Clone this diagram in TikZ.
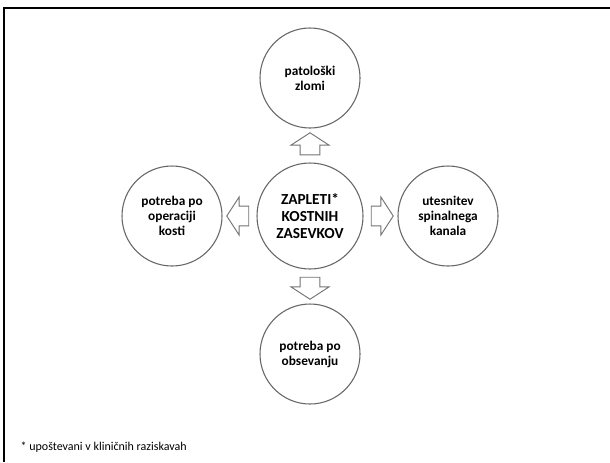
\documentclass[tikz,border=0pt]{standalone}
\usepackage{fontspec}
\setmainfont{Carlito}
\usetikzlibrary{positioning,shapes.arrows,calc}

\begin{document}
\begin{tikzpicture}[x=0.75pt,y=-0.75pt,node distance=103.5pt,
    bubble/.style={draw=black!60, line width=0.8pt, circle, minimum size=75pt, inner sep=0pt, align=center, font=\fontsize{10}{11.25}\selectfont\bfseries},
    blockarrow/.style={draw=black!55, line width=0.7pt, fill=white, single arrow, inner xsep=0pt, inner ysep=7.1pt, minimum height=16.5pt, single arrow head extend=6.75pt, single arrow tip angle=114}]
    \useasboundingbox (0,0) rectangle (610,462);
    \draw [line width=1.5pt] (4,462) -- (4,8) -- (610,8);

    \node (zap) [bubble, minimum size=79.5pt, font=\fontsize{11.5}{12.75}\selectfont\bfseries] at (310,216) {ZAPLETI*\\KOSTNIH\\ZASEVKOV};
    \node (zlomi) [bubble, above of=zap] {patološki\\zlomi};
    \node (operacija) [bubble, left of=zap] {potreba po\\operaciji\\kosti};
    \node (kanal) [bubble, right of=zap] {utesnitev\\spinalnega\\kanala};
    \node (obsevanje) [bubble, below of=zap] {potreba po\\obsevanju};

    \node (a1) [blockarrow, rotate=90] at ($(zap)!0.5!(zlomi)$) {};
    \node (a2) [blockarrow, rotate=180] at ($(zap)!0.5!(operacija)$) {};
    \node (a3) [blockarrow] at ($(zap)!0.5!(kanal)$) {};
    \node (a4) [blockarrow, rotate=-90] at ($(zap)!0.5!(obsevanje)$) {};

    \node (opomba) [anchor=west, font=\fontsize{9}{11}\selectfont] at (16,447) {* upoštevani v kliničnih raziskavah};
\end{tikzpicture}
\end{document}
